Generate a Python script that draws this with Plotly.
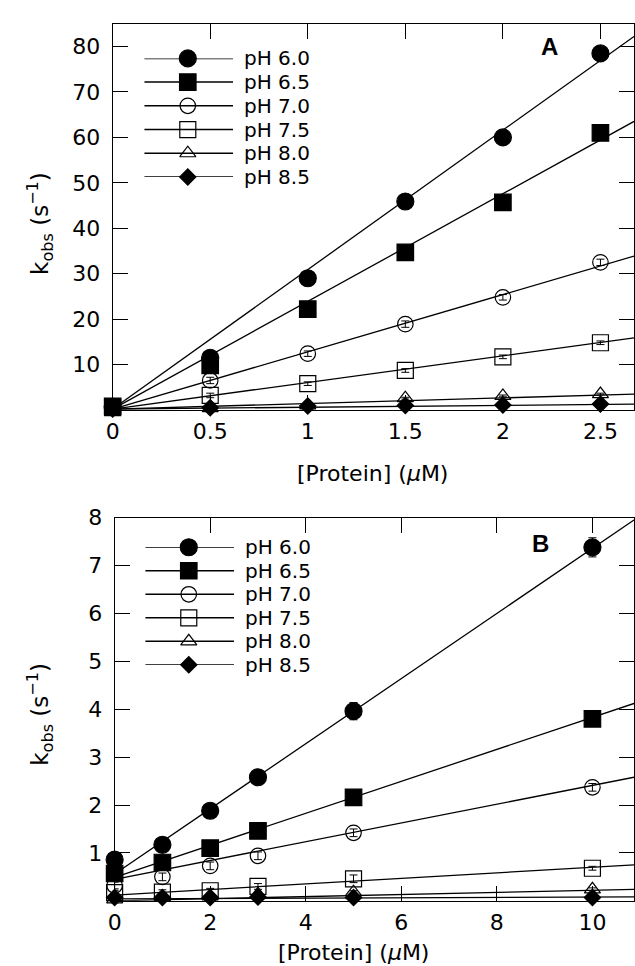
import plotly.graph_objects as go

W, H = 635, 966

# ---------------- data ----------------
labels = ["pH 6.0", "pH 6.5", "pH 7.0", "pH 7.5", "pH 8.0", "pH 8.5"]
symbols = ["circle", "square", "circle-open", "square-open", "triangle-up-open", "diamond"]
sizes = [17, 16.5, 15.5, 16, 14, 12.5]

# Panel A
xA = [0, 0.5, 1, 1.5, 2, 2.5]
yA_60 = [0.7, 11.5, 29.0, 45.9, 60.0, 78.5]
yA_65 = [0.8, 9.8, 22.2, 34.7, 45.7, 61.0]
yA_70 = [0.5, 6.5, 12.4, 18.9, 24.8, 32.5]
yA_75 = [0.5, 3.2, 5.8, 8.7, 11.7, 14.8]
yA_80 = [0.2, 0.4, 1.0, 2.6, 3.1, 3.5]
yA_85 = [0.2, 0.5, 0.9, 1.0, 1.1, 1.3]
eA_60 = [0.3, 0.8, 0.8, 0.8, 0.8, 0.8]
eA_65 = [0.3, 0.8, 0.8, 0.8, 0.8, 0.8]
eA_70 = [0.3, 0.7, 0.6, 0.7, 0.6, 0.7]
eA_75 = [0.3, 0.5, 0.4, 0.4, 0.4, 0.4]
eA_80 = [0.2, 0.2, 0.2, 0.2, 0.2, 0.2]
eA_85 = [0.2, 0.2, 0.2, 0.2, 0.2, 0.2]
slopeA = [30.7, 23.7, 12.6, 5.86, 1.23, 0.41]
interA = [0.2, 0.2, 0.2, 0.2, 0.2, 0.2]

# Panel B
xB = [0, 1, 2, 3, 5, 10]
yB_60 = [0.86, 1.17, 1.88, 2.58, 3.96, 7.38]
yB_65 = [0.57, 0.80, 1.10, 1.46, 2.16, 3.80]
yB_70 = [0.32, 0.50, 0.73, 0.94, 1.42, 2.37]
yB_75 = [0.17, 0.18, 0.21, 0.30, 0.46, 0.68]
yB_80 = [0.03, 0.06, 0.09, 0.14, 0.18, 0.24]
yB_85 = [0.07, 0.07, 0.07, 0.08, 0.07, 0.07]
eB_60 = [0.1, 0.08, 0.08, 0.15, 0.18, 0.2]
eB_65 = [0.06, 0.06, 0.06, 0.06, 0.06, 0.06]
eB_70 = [0.07, 0.08, 0.08, 0.08, 0.08, 0.08]
eB_75 = [0.05, 0.05, 0.05, 0.06, 0.08, 0.04]
eB_80 = [0.03, 0.03, 0.03, 0.03, 0.03, 0.03]
eB_85 = [0.02, 0.02, 0.02, 0.02, 0.02, 0.02]
slopeB = [0.68, 0.334, 0.196, 0.058, 0.022, 0.004]
interB = [0.56, 0.49, 0.45, 0.12, 0.0, 0.04]

xticksA = [0, 0.5, 1, 1.5, 2, 2.5]
xticklabelsA = ["0", "0.5", "1", "1.5", "2", "2.5"]
yticksA = [10, 20, 30, 40, 50, 60, 70, 80]
xticksB = [0, 2, 4, 6, 8, 10]
yticksB = [1, 2, 3, 4, 5, 6, 7, 8]

xrangeA = [0, 2.672]
yrangeA = [0, 85]
xrangeB = [0, 10.87]
yrangeB = [0, 8]

seriesA = [yA_60, yA_65, yA_70, yA_75, yA_80, yA_85]
errA = [eA_60, eA_65, eA_70, eA_75, eA_80, eA_85]
seriesB = [yB_60, yB_65, yB_70, yB_75, yB_80, yB_85]
errB = [eB_60, eB_65, eB_70, eB_75, eB_80, eB_85]

FONT = "DejaVu Sans"
fig = go.Figure()


def add_panel(xs, ys_list, es_list, slopes, inters, xr, xa, ya):
    # fitted lines
    for s, b in zip(slopes, inters):
        lx = [0, xr[1]]
        fig.add_trace(go.Scatter(x=lx, y=[b + s * v for v in lx], mode="lines",
                                 line=dict(color="black", width=1.3),
                                 xaxis=xa, yaxis=ya, showlegend=False, hoverinfo="skip"))
    # points (lowest series first so higher ones sit on top near the origin)
    for i in reversed(range(len(ys_list))):
        fig.add_trace(go.Scatter(
            x=xs, y=ys_list[i], mode="markers",
            marker=dict(symbol=symbols[i], size=sizes[i], color="black",
                        line=dict(color="black", width=1.2)),
            error_y=dict(type="data", array=es_list[i], color="black", thickness=1, width=4),
            xaxis=xa, yaxis=ya, showlegend=False, cliponaxis=False))


add_panel(xA, seriesA, errA, slopeA, interA, xrangeA, "x", "y")
add_panel(xB, seriesB, errB, slopeB, interB, xrangeB, "x2", "y2")

# custom legends drawn on hidden helper axes
for xa, ya in [("x3", "y3"), ("x4", "y4")]:
    for i, lab in enumerate(labels):
        fig.add_trace(go.Scatter(x=[0, 1], y=[i, i], mode="lines",
                                 line=dict(color="black", width=1.5),
                                 xaxis=xa, yaxis=ya, showlegend=False, cliponaxis=False))
        fig.add_trace(go.Scatter(x=[0.49], y=[i], mode="markers",
                                 marker=dict(symbol=symbols[i], size=sizes[i], color="black",
                                             line=dict(color="black", width=1.2)),
                                 xaxis=xa, yaxis=ya, showlegend=False, cliponaxis=False))
        fig.add_annotation(x=1, y=i, xref=xa, yref=ya, text=lab, showarrow=False,
                           xanchor="left", yanchor="middle", xshift=9,
                           font=dict(family=FONT, size=20, color="black"))

axis_common = dict(showline=True, linecolor="black", linewidth=1, mirror="ticks",
                   ticks="inside", ticklen=15, tickwidth=1, tickcolor="black",
                   showgrid=False, zeroline=False,
                   tickfont=dict(family=FONT, size=22, color="black"))


def px_x(p):
    return p / W


def px_y(p):
    return 1 - p / H


fig.update_layout(
    width=W, height=H, margin=dict(l=0, r=0, t=0, b=0),
    paper_bgcolor="white", plot_bgcolor="white", showlegend=False,
    xaxis=dict(domain=[px_x(107), 1], range=xrangeA, anchor="y",
               tickvals=xticksA, ticktext=xticklabelsA, ticklabelstandoff=2, **axis_common),
    yaxis=dict(domain=[px_y(403), px_y(12)], range=yrangeA, anchor="x",
               tickvals=yticksA, ticklabelstandoff=7, **axis_common),
    xaxis2=dict(domain=[px_x(109), 1], range=xrangeB, anchor="y2",
                tickvals=xticksB, ticklabelstandoff=2, **axis_common),
    yaxis2=dict(domain=[px_y(900), px_y(512)], range=yrangeB, anchor="x2",
                tickvals=yticksB, ticklabelstandoff=7, **axis_common),
    xaxis3=dict(domain=[px_x(139), px_x(229)], range=[0, 1], anchor="y3", visible=False),
    yaxis3=dict(domain=[px_y(167), px_y(47)], range=[5, 0], anchor="x3", visible=False),
    xaxis4=dict(domain=[px_x(140), px_x(230)], range=[0, 1], anchor="y4", visible=False),
    yaxis4=dict(domain=[px_y(661), px_y(542)], range=[5, 0], anchor="x4", visible=False),
)

ytitle_font = dict(family=FONT, size=23, color="black")
xtitle_font = dict(family=FONT, size=22, color="black")
ytitle = "k<sub>obs</sub> (s<sup>−1</sup>)"
xtitle = "[Protein] (<i>μ</i>M)"
for (xc, yc) in [(33, 214), (33, 711)]:
    fig.add_annotation(x=px_x(xc), y=px_y(yc), xref="paper", yref="paper", text=ytitle,
                       textangle=-90, showarrow=False, xanchor="center", yanchor="middle",
                       font=ytitle_font)
for (xc, yc) in [(370, 467), (351, 952)]:
    fig.add_annotation(x=px_x(xc), y=px_y(yc), xref="paper", yref="paper", text=xtitle,
                       showarrow=False, xanchor="center", yanchor="middle", font=xtitle_font)
for (lab, xc, yc) in [("A", 549, 35), ("B", 540, 538)]:
    fig.add_annotation(x=px_x(xc), y=px_y(yc), xref="paper", yref="paper", text="<b>" + lab + "</b>",
                       showarrow=False, xanchor="center", yanchor="middle",
                       font=dict(family="Liberation Sans", size=24, color="black"))

fig.write_html("out.html")
